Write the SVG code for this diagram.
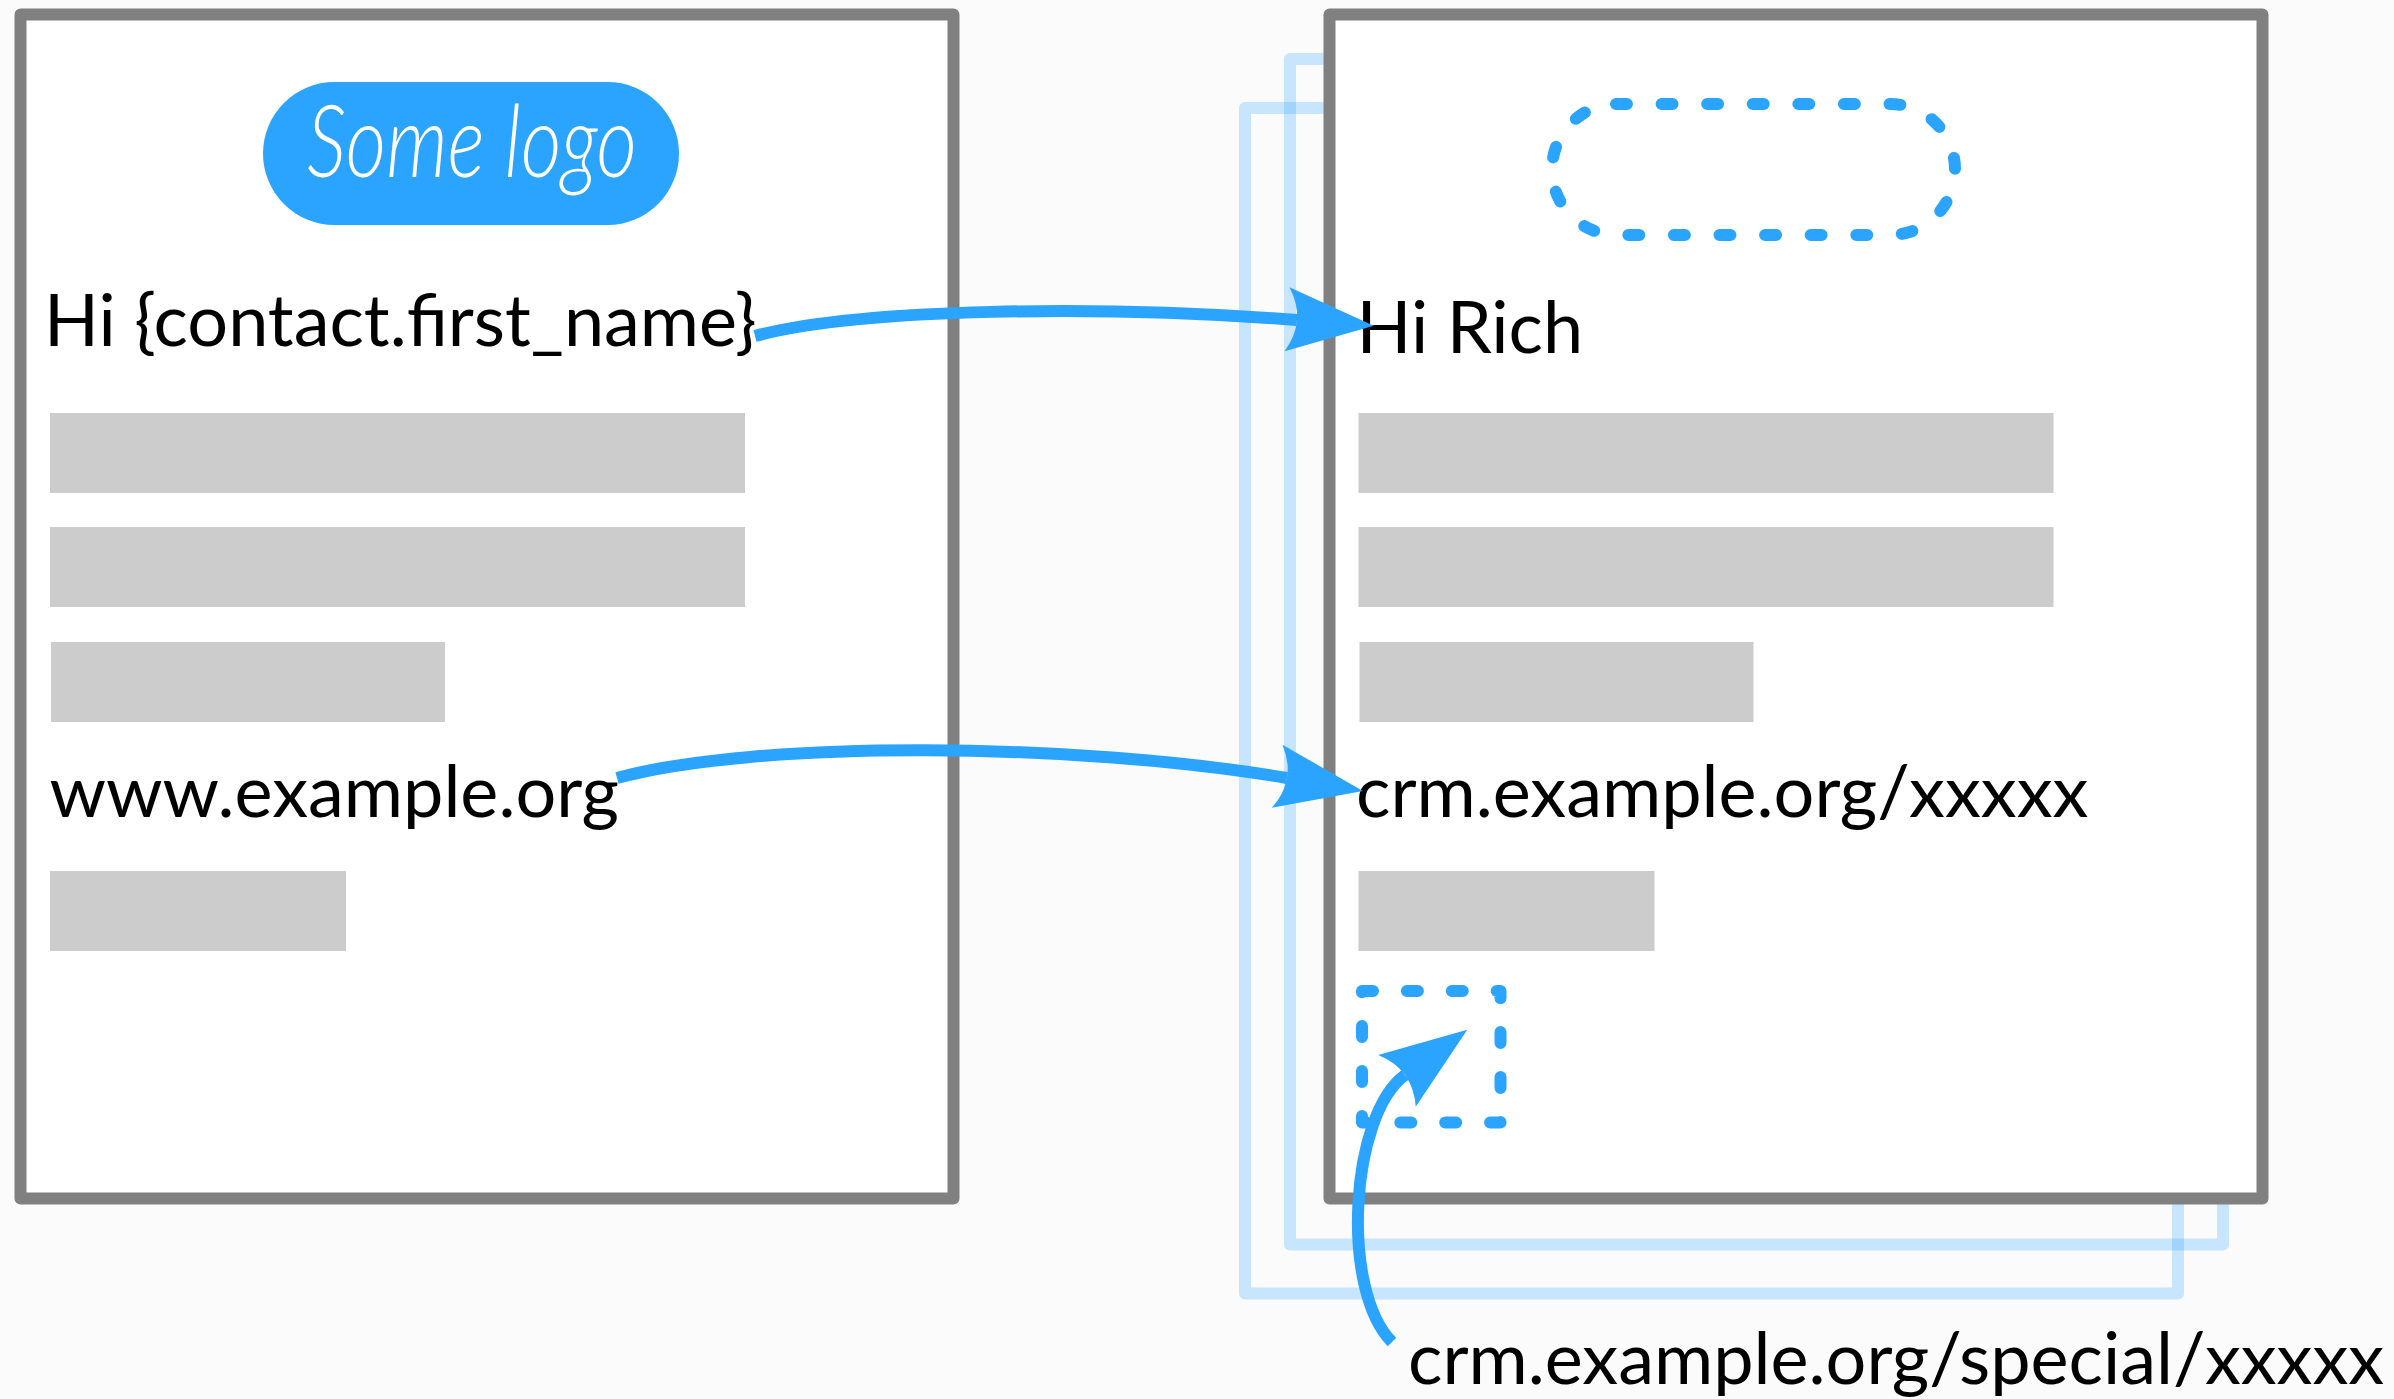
<svg xmlns="http://www.w3.org/2000/svg" width="2394" height="1399" viewBox="0 0 2394 1399">
<style>
.page{fill:#fff;stroke:#808080;stroke-width:12;stroke-linejoin:round}
.ghost{fill:none;stroke:#2ba4ff;stroke-opacity:.25;stroke-width:12;stroke-linejoin:round}
.bar{fill:#ccc}
.t{font-family:Lato,"Liberation Sans",sans-serif;font-size:72px;fill:#000}
.dash{fill:none;stroke:#2ba4ff;stroke-width:12;stroke-linecap:round;stroke-linejoin:round}
.arrow{fill:none;stroke:#2ba4ff;stroke-width:12;marker-end:url(#head)}
</style>
<defs>
<marker id="head" markerUnits="userSpaceOnUse" viewBox="-90 -35 92 70" markerWidth="92" markerHeight="70" refX="-77" refY="0" orient="auto">
<path d="M0 0L-87 -32Q-67 0 -87 32Z" fill="#2ba4ff"/>
</marker>
</defs>
<rect width="2394" height="1399" fill="#fbfbfb"/>
<g id="ghost-pages">
<rect class="ghost" x="1290" y="59" width="933" height="1185.500"/>
<rect class="ghost" x="1245" y="108" width="933" height="1185.500"/>
</g>
<g id="template-page">
<rect class="page" x="20.500" y="14.500" width="933" height="1184"/>
<g id="logo">
<rect x="263" y="82" width="416" height="143" rx="71.500" fill="#2ba4ff"/>
<text x="307" y="177" font-family="Lato,sans-serif" font-style="italic" font-weight="300" font-size="100" fill="#fff" textLength="330" lengthAdjust="spacingAndGlyphs">Some logo</text>
</g>
<text class="t" x="44" y="346">Hi {contact.first_name}</text>
<rect class="bar" x="50" y="413" width="695" height="80"/>
<rect class="bar" x="50" y="527" width="695" height="80"/>
<rect class="bar" x="51" y="642" width="394" height="80"/>
<text class="t" x="49.500" y="817">www.example.org</text>
<rect class="bar" x="50" y="871" width="296" height="80"/>
</g>
<g id="merged-page">
<rect class="page" x="1329.500" y="14.500" width="933" height="1184"/>
<path id="logo-placeholder" class="dash" pathLength="2100" stroke-dasharray="24 76" d="M1616 104H1890A65 65.500 0 0 1 1955 169.500A65 65.500 0 0 1 1890 235H1617A65 65.500 0 0 1 1552 169.500A65 65.500 0 0 1 1617 104Z"/>
<text class="t" x="1356.500" y="353">Hi Rich</text>
<rect class="bar" x="1358.500" y="413" width="695" height="80"/>
<rect class="bar" x="1358.500" y="527" width="695" height="80"/>
<rect class="bar" x="1359.500" y="642" width="394" height="80"/>
<text class="t" x="1356" y="817">crm.example.org/xxxxx</text>
<rect class="bar" x="1358.500" y="871" width="296" height="80"/>
<rect id="pixel-placeholder" class="dash" x="1362" y="991" width="138.500" height="131.500" stroke-dasharray="11 33.900"/>
</g>
<text id="special-url" class="t" x="1408" y="1384">crm.example.org/special/xxxxx</text>
<g id="connectors">
<path class="arrow" d="M755 336C860 308 1100 305 1297 320"/>
<path class="arrow" d="M617 778C755 740 1075 742 1287 778"/>
<path class="arrow" d="M1392 1342C1340 1290 1350 1115 1405 1075"/>
</g>
</svg>
